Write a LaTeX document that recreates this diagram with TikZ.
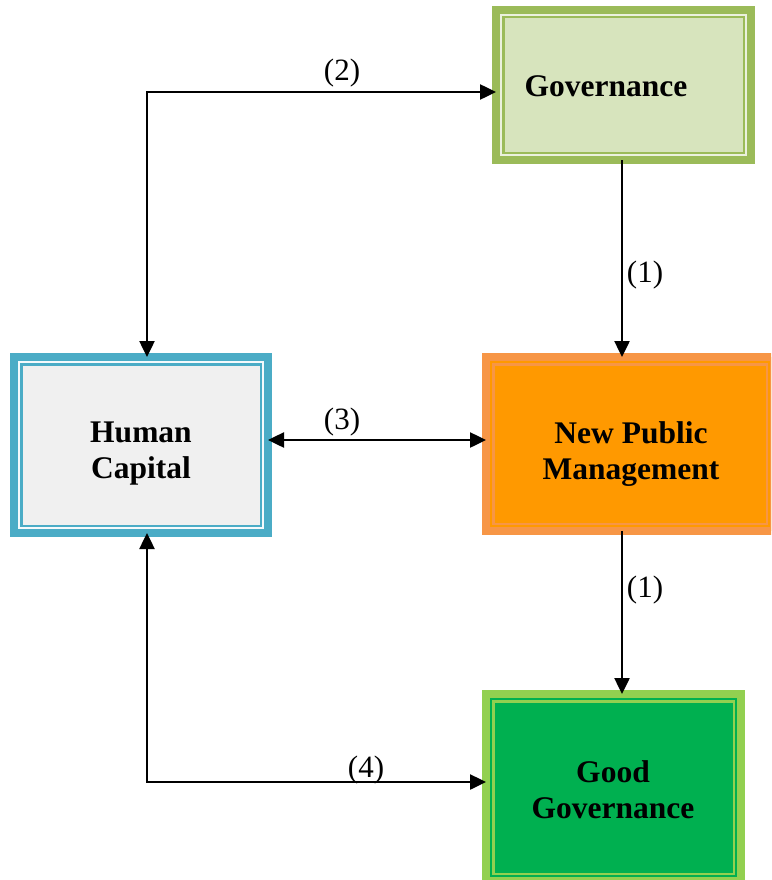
\documentclass[tikz,border=0pt]{standalone}
\usepackage{fontspec}
\setmainfont{Liberation Serif}
\usetikzlibrary{arrows.meta,calc}

\definecolor{govband}{HTML}{9BBB59}
\definecolor{govgap}{HTML}{EBF1DE}
\definecolor{govfill}{HTML}{D7E4BD}
\definecolor{hcband}{HTML}{4BACC6}
\definecolor{hcgap}{HTML}{F5FAFC}
\definecolor{hcfill}{HTML}{F0F0F0}
\definecolor{npmband}{HTML}{F79646}
\definecolor{npmfill}{HTML}{FF9900}
\definecolor{ggband}{HTML}{92D050}
\definecolor{ggfill}{HTML}{00B050}

\tikzset{
  box/.style={rectangle, draw=#1, line width=7.4pt, outer sep=0pt, inner sep=0pt},
  boxtext/.style={font=\fontsize{31.5}{36}\selectfont\bfseries, align=center},
  numlabel/.style={font=\fontsize{31}{36}\selectfont, inner sep=0pt},
  link/.style={line width=2.5pt, -{Triangle[length=16pt,width=15pt]}},
  biglink/.style={line width=2.5pt, {Triangle[length=16pt,width=15pt]}-{Triangle[length=16pt,width=15pt]}},
}

% inner trim of a framed box: a thin gap line and a thin rule inside the band
% (anchors sit on the middle of the band, 3.7pt inside its outer edge)
\newcommand{\boxtrim}[3]{%
  \draw[#2, line width=2.6pt] ([shift={(5,5)}]#1.north west) rectangle ([shift={(-5,-5)}]#1.south east);
  \draw[#3, line width=2.2pt] ([shift={(7.4,7.4)}]#1.north west) rectangle ([shift={(-7.4,-7.4)}]#1.south east);
}

\begin{document}
\begin{tikzpicture}[x=1pt, y=-1pt]
  \useasboundingbox (0,0) rectangle (771,880);
  \clip (0,0) rectangle (771,880);

  % boxes
  \node[box=govband, fill=govfill, minimum width=255pt, minimum height=150pt] (gov) at (623.5,85) {};
  \boxtrim{gov}{govgap}{govband}
  \node[boxtext] (govtxt) at (606,86) {Governance};

  \node[box=hcband, fill=hcfill, minimum width=254pt, minimum height=176pt] (hc) at (141,445) {};
  \boxtrim{hc}{hcgap}{hcband}
  \node[boxtext] (hctxt) at (141,454) {Human\\Capital};

  \node[box=npmband, fill=npmfill, minimum width=288pt, minimum height=174pt] (npm) at (630,444) {};
  \boxtrim{npm}{npmfill}{npmband}
  \node[boxtext] (npmtxt) at (631,454) {New Public\\Management};

  \node[box=ggband, fill=ggfill, minimum width=255pt, minimum height=187pt] (gg) at (613.5,787.5) {};
  \boxtrim{gg}{ggfill}{ggband}
  \node[boxtext] (ggtxt) at (613,790) {Good\\Governance};

  % routing points
  \coordinate (vcol) at (622,0);
  \coordinate (hrow) at (0,440);
  \coordinate (ctop) at (147,92);
  \coordinate (cbot) at (147,782);

  % connectors
  \draw[link] (gov.south -| vcol) -- (npm.north -| vcol);
  \draw[link] (npm.south -| vcol) -- (gg.north -| vcol);
  \draw[biglink] (hc.east |- hrow) -- (npm.west |- hrow);
  \draw[biglink] (hc.north -| ctop) -- (ctop) -- (gov.west |- ctop);
  \draw[biglink] (hc.south -| cbot) -- (cbot) -- (gg.west |- cbot);

  % connector labels
  \node[numlabel] (l2) at (342,73) {(2)};
  \node[numlabel] (l1a) at (645,275) {(1)};
  \node[numlabel] (l1b) at (645,590) {(1)};
  \node[numlabel] (l3) at (342,422) {(3)};
  \node[numlabel] (l4) at (366,770) {(4)};
\end{tikzpicture}
\end{document}
